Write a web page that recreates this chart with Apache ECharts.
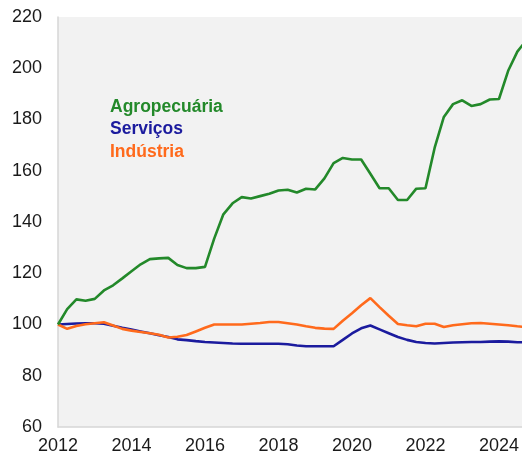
<!DOCTYPE html>
<html>
<head>
<meta charset="utf-8">
<script src="https://cdn.jsdelivr.net/npm/echarts@6/dist/echarts.min.js"></script>
<style>
  html, body { margin: 0; padding: 0; background: #fff; }
  #chart { width: 522px; height: 456px; }
</style>
</head>
<body>
<div id="chart"></div>
<script>
// trimestres, 2012T1 .. 2024T4
var quarters = [];
for (var y = 2012; y <= 2024; y++) {
    for (var q = 0; q < 4; q++) {
        quarters.push(y + q / 4);
    }
}

var agropecuaria = [
    100, 106, 109.8, 109.3,
    110, 113.3, 115.3, 118,
    120.8, 123.5, 125.5, 125.8,
    126, 123.2, 122, 122,
    122.5, 133.5, 143, 147.3,
    149.7, 149.2, 150.1, 151,
    152.3, 152.6, 151.5, 153,
    152.7, 157, 163, 165,
    164.4, 164.4, 158.8, 153.2,
    153.2, 148.6, 148.6, 153,
    153.2, 169, 181, 186,
    187.5, 185.3, 186, 187.8,
    188, 199, 206.5, 211
];

var servicos = [
    100, 100.2, 100.4, 100.5,
    100.5, 100.3, 99.5, 98.7,
    98, 97.3, 96.6, 95.8,
    95.1, 94.2, 93.9, 93.5,
    93.2, 93, 92.8, 92.6,
    92.5, 92.5, 92.5, 92.5,
    92.5, 92.3, 91.8, 91.5,
    91.5, 91.5, 91.5, 94,
    96.5, 98.5, 99.6, 98.1,
    96.6, 95.1, 94, 93.2,
    92.8, 92.6, 92.8, 93,
    93.1, 93.2, 93.2, 93.3,
    93.4, 93.3, 93.1, 93
];

var industria = [
    100, 98.3, 99.4, 100.1,
    100.5, 100.9, 99.6, 98.3,
    97.6, 97.1, 96.6, 96,
    94.9, 95.2, 95.9, 97.3,
    98.7, 100, 100, 100,
    100, 100.3, 100.6, 101,
    101, 100.5, 100, 99.3,
    98.7, 98.4, 98.3, 101.5,
    104.4, 107.5, 110.3, 106.8,
    103.4, 100.2, 99.7, 99.3,
    100.3, 100.3, 99, 99.7,
    100.1, 100.5, 100.6, 100.3,
    100, 99.7, 99.3, 99
];

var names = ['Agropecuária', 'Serviços', 'Indústria'];
var colors = { 'Agropecuária': '#23892a', 'Serviços': '#1b1b9e', 'Indústria': '#ff6a1c' };

function pairs(values) {
    var out = [];
    for (var i = 0; i < values.length; i++) {
        out.push([quarters[i], values[i]]);
    }
    return out;
}

function lineSeries(name, values) {
    return {
        name: name,
        type: 'line',
        data: pairs(values),
        showSymbol: false,
        symbol: 'none',
        clip: true,
        lineStyle: { width: 2.6, color: colors[name] },
        itemStyle: { color: colors[name] }
    };
}

var chart = echarts.init(document.getElementById('chart'));

var option = {
    animation: false,
    textStyle: { fontFamily: 'Liberation Sans, Arial, sans-serif' },
    grid: {
        left: 58, right: 0, top: 17, bottom: 29,
        show: true,
        backgroundColor: '#f2f2f2',
        borderWidth: 0
    },
    legend: {
        data: names.map(function (n) {
            return { name: n, textStyle: { color: colors[n] } };
        }),
        orient: 'vertical',
        left: 100,
        top: 93,
        icon: 'none',
        itemWidth: 0,
        itemHeight: 10,
        itemGap: 4.5,
        selectedMode: false,
        textStyle: { fontSize: 17.5, fontWeight: 'bold', padding: 0 }
    },
    xAxis: {
        type: 'value',
        min: 2012,
        max: 2024.625,
        interval: 2,
        axisLine: { show: true, lineStyle: { color: '#d6d6d6', width: 1.5 } },
        axisTick: { show: false },
        splitLine: { show: false },
        axisLabel: {
            color: '#1a1a1a',
            fontSize: 18,
            margin: 10,
            showMaxLabel: false,
            formatter: function (v) { return v % 2 === 0 ? String(v) : ''; }
        }
    },
    yAxis: {
        type: 'value',
        min: 60,
        max: 220,
        interval: 20,
        axisLine: { show: true, lineStyle: { color: '#d6d6d6', width: 1.5 } },
        axisTick: { show: false },
        splitLine: { show: false },
        axisLabel: { color: '#1a1a1a', fontSize: 18, margin: 16 }
    },
    series: [
        lineSeries('Serviços', servicos),
        lineSeries('Indústria', industria),
        lineSeries('Agropecuária', agropecuaria)
    ]
};

chart.setOption(option);
</script>
</body>
</html>
